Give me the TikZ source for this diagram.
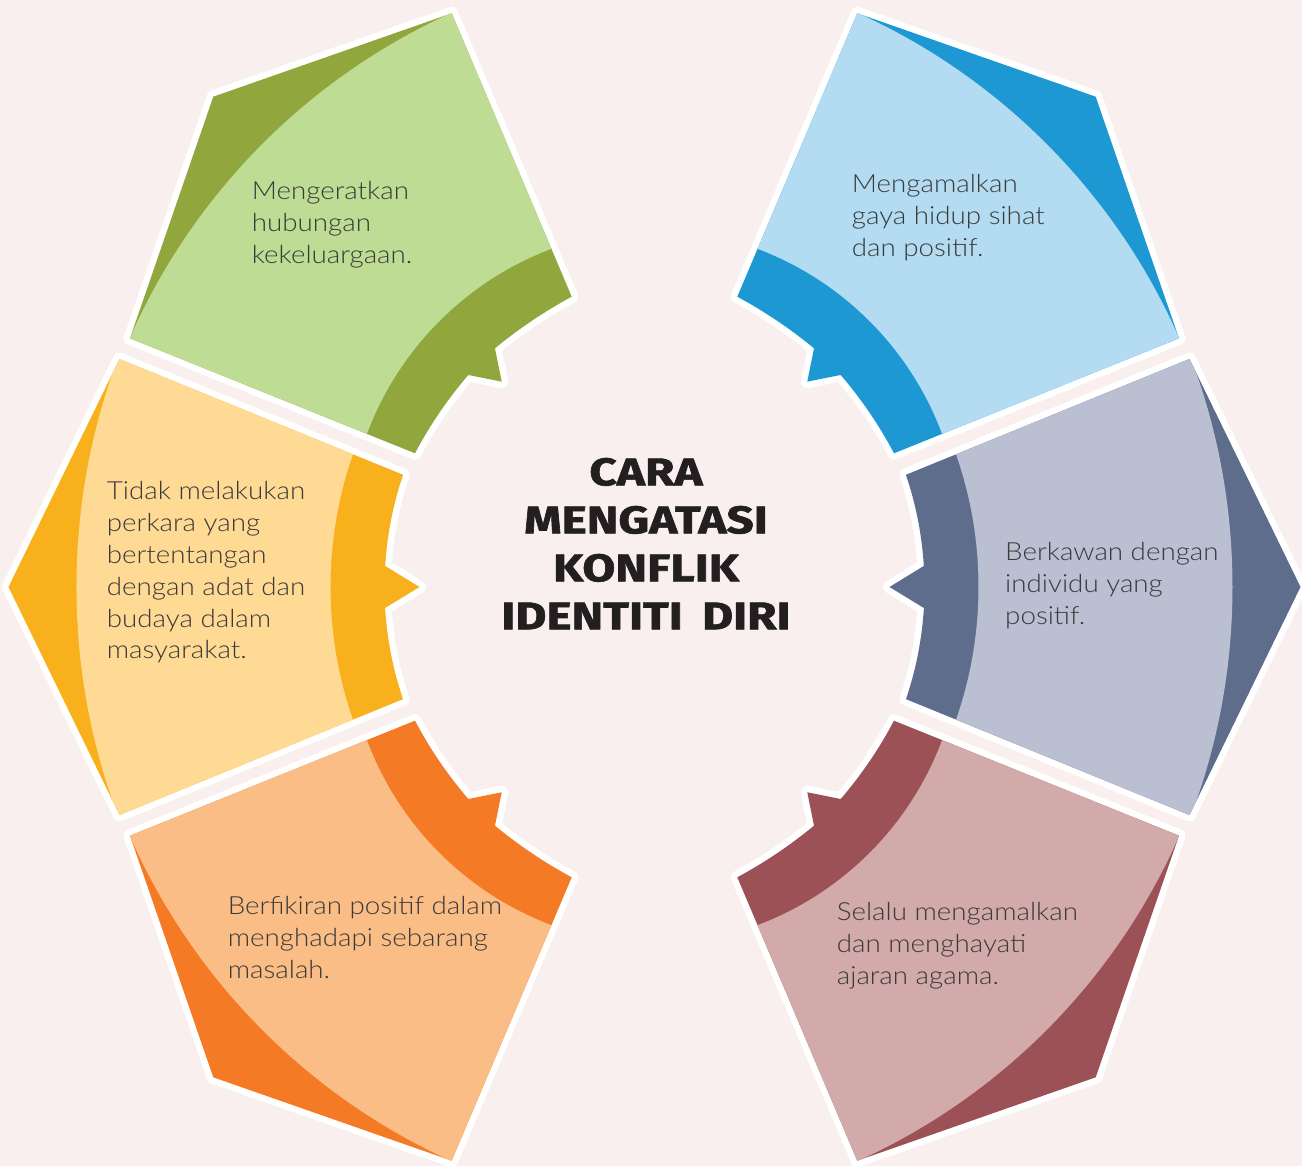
\documentclass[tikz,border=0pt]{standalone}
\usepackage{fontspec}
\IfFontExistsTF{Lato Light}{\setmainfont{Lato Light}[FakeStretch=1.11]}{%
  \IfFontExistsTF{Fira Sans Light}{\setmainfont{Fira Sans Light}[FakeStretch=1.05]}{\setmainfont{Lato}[FakeStretch=1.11]}}
\IfFontExistsTF{Fira Sans Heavy}{\newfontfamily\titlefont{Fira Sans Heavy}[FakeStretch=1.2]}{%
  \newfontfamily\titlefontbase{Fira Sans}[BoldFeatures={FakeStretch=1.24,FakeBold=1.6}]\newcommand\titlefont{\titlefontbase\bfseries}}
\definecolor{bg}{HTML}{F8EFEE}
\definecolor{gL}{HTML}{BEDC94}\definecolor{gD}{HTML}{91A73D}
\definecolor{bL}{HTML}{B3DCF2}\definecolor{bD}{HTML}{1D98D3}
\definecolor{yL}{HTML}{FFDA95}\definecolor{yD}{HTML}{F8B11D}
\definecolor{sL}{HTML}{BAC0D2}\definecolor{sD}{HTML}{5E6D8B}
\definecolor{oL}{HTML}{FABD86}\definecolor{oD}{HTML}{F47A25}
\definecolor{rL}{HTML}{D1AAA9}\definecolor{rD}{HTML}{9B5155}
\definecolor{txt}{HTML}{3A3A3A}
\definecolor{ink}{HTML}{231F20}
\newcommand\pathDiag{(-202.8,573.7) -- (-441.2,490.3) -- (-524.5,248.7) -- (-239.5,133.7)
  .. controls (-224.7,161.8) and (-206.9,187.9) .. (-186.2,212) -- (-152.8,205.3) -- (-159.5,238.7)
  .. controls (-135.6,258.4) and (-110.0,275.6) .. (-82.8,290.3) -- cycle}
\newcommand\pathSide{(251.4,112.2) arc[start angle=18.8, end angle=3.46, radius=348] -- (235,0)
  -- (269.4,-21.0) arc[start angle=-3.46, end angle=-18.8, radius=348] -- (535,-228) -- (646,0) -- (535,228) -- cycle}
\newcommand\lightDiag{(59.4,-7.2) circle[radius=637.6] (7.7,43.2) circle[radius=315]}
\newcommand\lightSide{(-70,0) circle[radius=648] (-77,0) circle[radius=401]}
\newcommand\seg[5]{%
  \begin{scope}[#1]
    \path[rim] #2;
    \begin{scope}
      \clip #2;
      \fill[#4] (-700,-700) rectangle (700,700);
      \fill[#3, even odd rule] #5;
    \end{scope}
  \end{scope}}
\tikzset{
  rim/.style={draw=white, line width=13pt, line join=round},
  label/.style={anchor=base west, align=left, inner sep=0pt, text=txt,
    font=\fontsize{25}{31.8}\selectfont},
  title/.style={anchor=base, align=center, inner sep=0pt, text=ink,
    font=\titlefont\fontsize{38.5}{48}\selectfont}
}
\begin{document}
\begin{tikzpicture}[x=1pt,y=1pt]
\useasboundingbox (-654.5,-579) rectangle (647.5,587);
\fill[bg] (-654.5,-579) rectangle (647.5,587);
\seg{}{\pathDiag}{gL}{gD}{\lightDiag}
\seg{xscale=-1}{\pathDiag}{bL}{bD}{\lightDiag}
\seg{yscale=-1}{\pathDiag}{oL}{oD}{\lightDiag}
\seg{xscale=-1,yscale=-1}{\pathDiag}{rL}{rD}{\lightDiag}
\seg{}{\pathSide}{sL}{sD}{\lightSide}
\seg{xscale=-1}{\pathSide}{yL}{yD}{\lightSide}
% anchors are at the baseline of the last line
\node[label] (t1) at (-402.8,323.4) {Mengeratkan\\hubungan\\kekeluargaan.};
\node[label] (t2) at (197.2,330.7) {Mengamalkan\\gaya hidup sihat\\dan positif.};
\node[label] (t3) at (-547.8,-72) {Tidak melakukan\\perkara yang\\bertentangan\\dengan adat dan\\budaya dalam\\masyarakat.};
\node[label] (t4) at (350.5,-37.3) {Berkawan dengan\\individu yang\\positif.};
\node[label] (t5) at (-426.8,-391.6) {Berfikiran positif dalam\\menghadapi sebarang\\masalah.};
\node[label] (t6) at (182.2,-397.3) {Selalu mengamalkan\\dan menghayati\\ajaran agama.};
\node[title] (ttl) at (-8.5,-42.3) {CARA\\MENGATASI\\KONFLIK\\IDENTITI\hspace{8pt} DIRI};
\end{tikzpicture}
\end{document}
